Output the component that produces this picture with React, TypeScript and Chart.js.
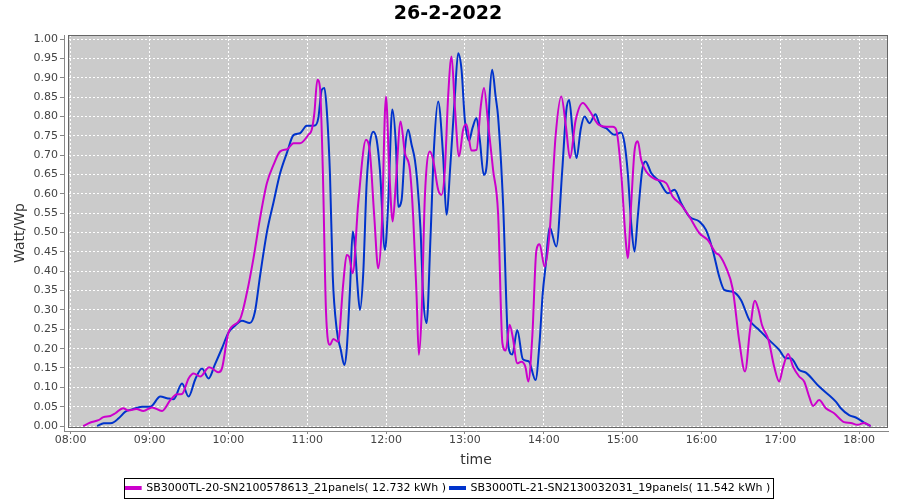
import React, { useEffect, useRef } from 'react';
import { Chart, registerables } from 'chart.js';

Chart.register(...registerables);

// ---- data ----
const chartTitle = '26-2-2022';
const xTitle = 'time';
const yTitle = 'Watt/Wp';
const seriesALabel = 'SB3000TL-20-SN2100578613_21panels( 12.732 kWh )';
const seriesBLabel = 'SB3000TL-21-SN2130032031_19panels( 11.542 kWh )';

// times in minutes after midnight
const hourTicks = [480, 540, 600, 660, 720, 780, 840, 900, 960, 1020, 1080];
const valueTicks = [0, 0.05, 0.1, 0.15, 0.2, 0.25, 0.3, 0.35, 0.4, 0.45, 0.5, 0.55, 0.6, 0.65, 0.7, 0.75, 0.8, 0.85, 0.9, 0.95, 1.0];

const seriesATimes = [
  489.5, 495.0, 501.1, 504.9, 510.2, 514.0, 519.9, 523.9, 530.0, 535.3,
  541.9, 549.5, 555.8, 560.9, 564.7, 569.7, 573.5, 578.6, 585.4, 592.5,
  595.1, 600.1, 609.0, 614.1, 619.1, 624.2, 629.3, 634.3, 639.4, 644.9,
  649.5, 654.5, 660.9, 663.4, 665.4, 667.7, 669.7, 671.8, 674.3, 677.3,
  679.8, 683.4, 687.4, 690.0, 691.8, 694.6, 698.8, 704.7, 707.7, 711.0,
  714.0, 716.6, 719.9, 722.4, 725.0, 727.5, 731.0, 734.3, 738.1, 740.6,
  743.2, 744.9, 747.0, 749.5, 753.3, 755.8, 759.6, 762.2, 764.7, 767.2,
  769.8, 772.3, 775.5, 778.6, 781.1, 784.9, 788.8, 792.0, 794.5, 797.6,
  801.4, 805.2, 808.5, 811.0, 814.0, 816.6, 819.6, 822.9, 826.0, 828.2,
  831.3, 834.3, 836.8, 840.6, 844.4, 849.0, 853.3, 856.8, 859.9, 864.2,
  869.7, 874.8, 881.1, 887.5, 892.5, 895.1, 898.9, 902.1, 903.9, 906.5,
  909.0, 911.5, 914.1, 917.9, 925.5, 933.1, 938.1, 944.5, 950.8, 958.3,
  964.7, 971.0, 973.5, 978.6, 983.7, 988.7, 993.1, 996.9, 1000.6, 1003.4,
  1006.0, 1011.0, 1015.3, 1019.1, 1022.1, 1025.9, 1029.7, 1034.3, 1038.1, 1041.9,
  1044.9, 1049.5, 1054.6, 1060.9, 1068.5, 1073.6, 1078.6, 1083.7, 1088.7,
];
const seriesAValues = [
  0.000, 0.009, 0.015, 0.023, 0.026, 0.033, 0.046, 0.040, 0.044, 0.039,
  0.048, 0.039, 0.067, 0.082, 0.083, 0.123, 0.136, 0.128, 0.152, 0.139,
  0.149, 0.242, 0.277, 0.345, 0.434, 0.540, 0.628, 0.675, 0.710, 0.716,
  0.731, 0.731, 0.753, 0.766, 0.809, 0.895, 0.874, 0.667, 0.293, 0.210,
  0.225, 0.218, 0.369, 0.442, 0.438, 0.395, 0.576, 0.740, 0.706, 0.541,
  0.408, 0.507, 0.852, 0.662, 0.529, 0.632, 0.787, 0.706, 0.662, 0.541,
  0.335, 0.184, 0.290, 0.593, 0.710, 0.688, 0.611, 0.598, 0.662, 0.852,
  0.955, 0.826, 0.697, 0.766, 0.780, 0.712, 0.714, 0.826, 0.874, 0.783,
  0.662, 0.550, 0.214, 0.195, 0.262, 0.225, 0.162, 0.166, 0.153, 0.115,
  0.235, 0.453, 0.470, 0.412, 0.500, 0.751, 0.852, 0.775, 0.693, 0.790,
  0.835, 0.815, 0.781, 0.774, 0.774, 0.766, 0.654, 0.490, 0.434, 0.576,
  0.710, 0.736, 0.688, 0.658, 0.637, 0.628, 0.593, 0.572, 0.541, 0.499,
  0.481, 0.447, 0.442, 0.410, 0.355, 0.220, 0.141, 0.248, 0.324, 0.300,
  0.261, 0.222, 0.153, 0.115, 0.153, 0.186, 0.153, 0.128, 0.115, 0.076,
  0.052, 0.067, 0.046, 0.033, 0.010, 0.008, 0.003, 0.008, 0.000,
];

const seriesBTimes = [
  500.1, 505.2, 511.5, 516.5, 521.6, 526.7, 534.3, 540.6, 548.2, 553.3,
  558.3, 564.7, 569.7, 574.8, 579.9, 584.9, 589.6, 595.1, 600.1, 605.2,
  610.3, 616.2, 620.1, 624.2, 629.5, 634.3, 639.4, 644.7, 649.5, 654.5,
  659.6, 665.9, 668.4, 671.0, 673.0, 674.8, 677.3, 679.4, 682.4, 685.5,
  688.2, 690.0, 692.5, 694.6, 696.3, 698.1, 700.1, 702.6, 705.2, 707.7,
  710.2, 712.8, 715.3, 719.1, 721.6, 724.7, 727.5, 729.2, 731.8, 734.3,
  736.8, 739.4, 741.9, 743.6, 746.2, 748.2, 750.8, 753.8, 756.5, 759.6,
  763.4, 765.9, 769.0, 772.3, 774.8, 777.4, 779.9, 783.1, 785.7, 788.8,
  791.3, 794.3, 796.8, 798.9, 800.7, 803.4, 805.2, 809.0, 813.1, 816.0,
  819.8, 824.0, 828.6, 833.7, 836.8, 839.1, 841.4, 844.4, 849.5, 854.0,
  857.1, 859.3, 862.1, 864.9, 868.1, 871.0, 874.8, 879.3, 882.4, 887.5,
  893.8, 898.9, 901.4, 903.9, 906.5, 909.0, 911.5, 914.9, 917.4, 921.7,
  928.0, 934.4, 939.4, 944.5, 950.8, 958.3, 963.4, 968.5, 973.5, 977.3,
  983.7, 990.0, 996.4, 1003.9, 1011.5, 1019.1, 1024.2, 1028.0, 1034.3, 1039.4,
  1049.5, 1062.2, 1066.0, 1072.3, 1077.4, 1083.7, 1088.7,
];
const seriesBValues = [
  0.000, 0.007, 0.008, 0.020, 0.037, 0.043, 0.050, 0.050, 0.076, 0.072,
  0.069, 0.110, 0.076, 0.121, 0.149, 0.123, 0.158, 0.201, 0.242, 0.260,
  0.272, 0.266, 0.294, 0.391, 0.505, 0.578, 0.654, 0.708, 0.752, 0.757,
  0.776, 0.777, 0.796, 0.869, 0.874, 0.820, 0.649, 0.388, 0.250, 0.197,
  0.158, 0.197, 0.352, 0.503, 0.464, 0.369, 0.300, 0.395, 0.628, 0.731,
  0.761, 0.740, 0.662, 0.455, 0.576, 0.818, 0.723, 0.567, 0.585, 0.714,
  0.766, 0.727, 0.688, 0.636, 0.507, 0.335, 0.266, 0.490, 0.723, 0.839,
  0.697, 0.546, 0.680, 0.852, 0.964, 0.921, 0.792, 0.738, 0.770, 0.796,
  0.740, 0.649, 0.684, 0.861, 0.921, 0.850, 0.800, 0.576, 0.205, 0.185,
  0.248, 0.173, 0.167, 0.119, 0.218, 0.340, 0.415, 0.514, 0.464, 0.660,
  0.815, 0.843, 0.755, 0.693, 0.768, 0.800, 0.783, 0.806, 0.780, 0.770,
  0.753, 0.759, 0.731, 0.654, 0.524, 0.451, 0.541, 0.662, 0.684, 0.654,
  0.632, 0.602, 0.611, 0.576, 0.541, 0.529, 0.507, 0.455, 0.386, 0.352,
  0.347, 0.326, 0.274, 0.248, 0.222, 0.197, 0.175, 0.175, 0.145, 0.138,
  0.102, 0.063, 0.046, 0.028, 0.022, 0.009, 0.000,
];

const colorA = '#cc00cc';
const colorB = '#0033cc';

const fmtTime = (v: number) => {
  const h = Math.floor(v / 60);
  const m = Math.round(v - h * 60);
  return String(h).padStart(2, '0') + ':' + String(m).padStart(2, '0');
};

const plotFrame = {
  id: 'plotFrame',
  beforeDraw(chart: any) {
    const { ctx, chartArea: a } = chart;
    ctx.save();
    ctx.fillStyle = '#ffffff';
    ctx.fillRect(0, 0, chart.width, chart.height);
    ctx.fillStyle = '#cbcbcb';
    ctx.fillRect(a.left + 4.5, a.top, a.right - a.left - 4.5, a.bottom - 3.5 - a.top);
    ctx.restore();
  },
  afterDatasetsDraw(chart: any) {
    const { ctx, chartArea: a } = chart;
    ctx.save();
    ctx.strokeStyle = '#666666';
    ctx.lineWidth = 1;
    ctx.strokeRect(a.left + 4.5, a.top + 0.5, a.right - a.left - 5, a.bottom - 4 - a.top);
    ctx.restore();
  },
  afterDraw(chart: any) {
    const lg = chart.legend;
    if (!lg || !lg.legendHitBoxes || !lg.legendHitBoxes.length) return;
    const hb = lg.legendHitBoxes;
    const first = hb[0];
    const last = hb[hb.length - 1];
    const left = Math.round(first.left - 2) + 0.5;
    const right = Math.round(last.left + last.width + 3) + 0.5;
    const mid = first.top + first.height / 2;
    const top = Math.round(mid - 10) + 0.5;
    const bottom = Math.round(mid + 10) + 0.5;
    const ctx = chart.ctx;
    ctx.save();
    ctx.strokeStyle = '#000000';
    ctx.lineWidth = 1;
    ctx.strokeRect(left, top, right - left, bottom - top);
    ctx.restore();
  },
};

export default function App() {
  const ref = useRef<HTMLCanvasElement | null>(null);

  useEffect(() => {
    document.body.style.margin = '0';
    const canvas = ref.current;
    if (!canvas) return;
    Chart.defaults.font.family = 'DejaVu Sans';
    const chart = new Chart(canvas, {
      type: 'line',
      data: {
        datasets: [
          {
            label: seriesALabel,
            data: seriesATimes.map((t, i) => ({ x: t, y: seriesAValues[i] })),
            borderColor: colorA,
            backgroundColor: colorA,
            borderWidth: 2,
            pointRadius: 0,
            cubicInterpolationMode: 'monotone',
            fill: false,
          },
          {
            label: seriesBLabel,
            data: seriesBTimes.map((t, i) => ({ x: t, y: seriesBValues[i] })),
            borderColor: colorB,
            backgroundColor: colorB,
            borderWidth: 2,
            pointRadius: 0,
            cubicInterpolationMode: 'monotone',
            fill: false,
          },
        ],
      },
      options: {
        animation: false,
        responsive: false,
        devicePixelRatio: 1,
        layout: { padding: { left: 8, right: 12, top: 0, bottom: 0 } },
        plugins: {
          title: {
            display: true,
            text: chartTitle,
            color: '#000000',
            font: { family: 'DejaVu Sans', size: 19, weight: 'bold' },
            padding: { top: 3, bottom: 9.2 },
          },
          legend: {
            display: true,
            position: 'bottom',
            maxHeight: 21.5,
            labels: {
              boxWidth: 15,
              boxHeight: 2,
              padding: 4,
              color: '#000000',
              font: { family: 'DejaVu Sans', size: 11 },
            },
          },
          tooltip: { enabled: false },
        },
        scales: {
          x: {
            type: 'linear',
            min: 474.9,
            max: 1101.9,
            afterBuildTicks: (s: any) => {
              s.ticks = hourTicks.map((v) => ({ value: v }));
            },
            afterFit: (s: any) => {
              s.height = 47.5;
            },
            ticks: {
              autoSkip: false,
              maxRotation: 0,
              padding: 0,
              color: '#444444',
              font: { family: 'DejaVu Sans', size: 11 },
              callback: (v: any) => fmtTime(Number(v)),
            },
            grid: {
              color: '#ffffff',
              lineWidth: 1,
              tickLength: 3,
              tickColor: '#888888',
            },
            border: { display: true, color: '#888888', dash: [2, 2] },
            title: {
              display: true,
              text: xTitle,
              color: '#333333',
              font: { family: 'DejaVu Sans', size: 14 },
              padding: { top: 0, bottom: 10 },
            },
          },
          y: {
            type: 'linear',
            min: -0.0129,
            max: 1.0109,
            afterBuildTicks: (s: any) => {
              s.ticks = valueTicks.map((v) => ({ value: v }));
            },
            afterFit: (s: any) => {
              s.width = 56;
            },
            ticks: {
              padding: 2,
              color: '#444444',
              font: { family: 'DejaVu Sans', size: 11 },
              callback: (v: any) => Number(v).toFixed(2),
            },
            grid: {
              color: '#ffffff',
              lineWidth: 1,
              tickLength: 4,
              tickColor: '#888888',
            },
            border: { display: true, color: '#888888', dash: [2, 2] },
            title: {
              display: true,
              text: yTitle,
              color: '#333333',
              font: { family: 'DejaVu Sans', size: 14 },
              padding: { top: 4, bottom: 0 },
            },
          },
        },
      },
      plugins: [plotFrame],
    } as any);
    return () => chart.destroy();
  }, []);

  return (
    <div style={{ width: 900, height: 500 }}>
      <canvas ref={ref} width={900} height={500} style={{ display: 'block' }} />
    </div>
  );
}
